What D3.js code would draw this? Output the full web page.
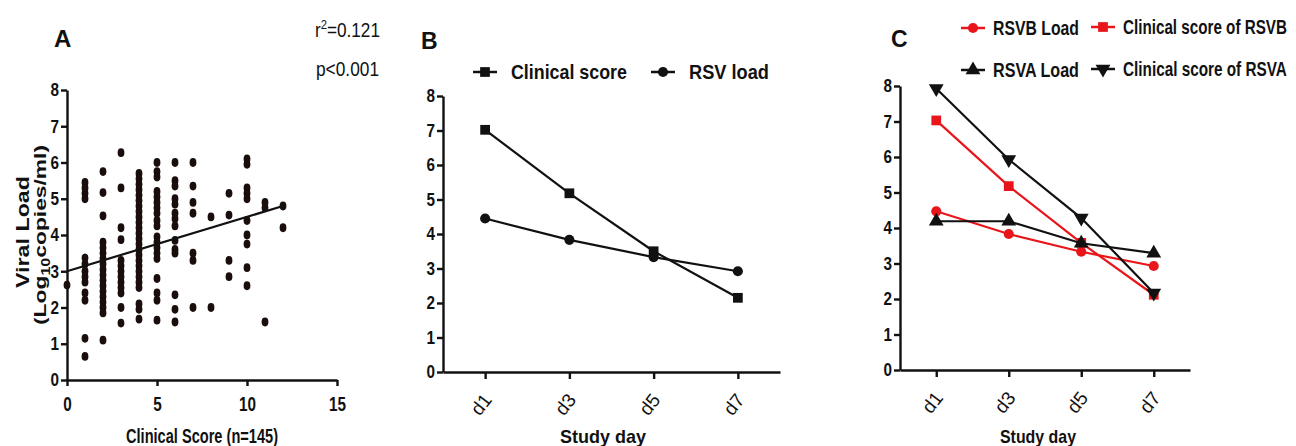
<!DOCTYPE html>
<html lang="en">
<head>
<meta charset="utf-8">
<title>RSV load and clinical score</title>
<script src="https://d3js.org/d3.v7.min.js"></script>
<style>
  body { margin: 0; background: #fff; }
  svg text { font-family: "Liberation Sans", Arial, sans-serif; fill: #111; }
  .axis path, .axis line { stroke: #111; stroke-width: 2.4; }
  .axis text { font-weight: bold; }
</style>
</head>
<body>
<script>
// ---- data ----
// panel A: viral load read column by column, index = clinical score
const scoreColumns = [0,1,2,3,4,5,6,7,8,9,10,11,12];
const loadByScore = [
  [2.62],
  [5.45,5.3,5.15,5.0,3.37,3.2,3.0,2.85,2.7,2.4,2.2,1.15,0.65],
  [5.75,5.17,4.53,3.8,3.65,3.5,3.35,3.2,3.05,2.9,2.75,2.6,2.45,2.3,2.15,2.0,1.85,1.1],
  [6.27,5.3,4.2,3.87,3.3,3.15,3.0,2.85,2.7,2.55,2.4,2.0,1.57],
  [5.7,5.55,5.4,5.25,5.1,4.95,4.8,4.65,4.5,4.35,4.2,4.05,3.9,3.75,3.6,3.45,3.3,3.15,3.0,2.85,2.7,2.55,2.1,1.95,1.68],
  [6.0,5.75,5.6,5.2,5.05,4.9,4.75,4.6,4.4,4.25,3.95,3.8,3.65,3.5,3.35,2.8,2.4,2.2,1.65],
  [6.0,5.5,5.35,5.0,4.85,4.6,4.45,4.25,3.85,3.6,3.5,2.35,1.95,1.6],
  [6.0,5.35,4.9,4.6,3.5,3.3,2.0],
  [4.5,2.0],
  [5.15,4.55,3.3,2.85],
  [6.1,5.95,5.3,5.15,5.0,4.4,4.0,3.75,3.1,2.6],
  [4.9,4.75,1.6],
  [4.8,4.2]
];
const fitIntercept = 3.0, fitSlope = 0.15, fitRange = [0, 12];
const xTicksA = [0,5,10,15];
const yTicks = [0,1,2,3,4,5,6,7,8];

// panels B and C
const studyDays = ["d1","d3","d5","d7"];
const clinicalScore = [7.02,5.18,3.5,2.15];
const rsvLoad = [4.45,3.83,3.33,2.92];

const rsvbLoad = [4.47,3.83,3.33,2.93];
const rsvbScore = [7.03,5.18,3.58,2.12];
const rsvaLoad = [4.19,4.19,3.57,3.29];
const rsvaScore = [7.93,5.93,4.28,2.17];

const RED = "#e8161b", BLACK = "#111";

const svg = d3.select("body").append("svg")
  .attr("width", 1296).attr("height", 446);

// squeeze text to a narrow look
function narrow(sel, w) {
  return sel.attr("textLength", w).attr("lengthAdjust", "spacingAndGlyphs");
}
// same idea, but by scaling the glyphs horizontally around the text start
function squeeze(sel, w) {
  const n = sel.node().getComputedTextLength();
  const x = +sel.attr("x"), y = +sel.attr("y");
  return sel.attr("transform", "translate(" + x + "," + y + ") scale(" + (w / n) + ",1) translate(" + (-x) + "," + (-y) + ")");
}

function yAxisAt(scale, x) {
  const g = svg.append("g").attr("class", "axis")
    .attr("transform", "translate(" + x + ",0)")
    .call(d3.axisLeft(scale).tickValues(yTicks).tickSize(6).tickSizeOuter(0).tickPadding(2));
  g.selectAll("text").style("font-size", "18px")
    .each(function(d) { narrow(d3.select(this), String(d).length * 8.5); });
  return g;
}

function marker(type) {
  return d3.symbol().type(type).size(type === d3.symbolCircle ? 80 : 95)();
}

// ---------- Panel A ----------
const xA = d3.scaleLinear().domain([0, 15]).range([67, 337]);
const yA = d3.scaleLinear().domain([0, 8]).range([380, 90]);

const xgA = svg.append("g").attr("class", "axis")
  .attr("transform", "translate(0," + yA(0) + ")")
  .call(d3.axisBottom(xA).tickValues(xTicksA).tickSize(6).tickSizeOuter(0).tickPadding(11));
xgA.selectAll("text").style("font-size", "20px")
  .each(function(d) { narrow(d3.select(this), String(d).length * 8.5); });
yAxisAt(yA, xA(0));

const points = [];
scoreColumns.forEach((s, i) => loadByScore[i].forEach(v => points.push({s: s, v: v})));
svg.append("g").selectAll("ellipse").data(points).enter().append("ellipse")
  .attr("cx", d => xA(d.s)).attr("cy", d => yA(d.v))
  .attr("rx", 3.4).attr("ry", 4.4)
  .attr("fill", "#1a0e0c");

svg.append("line")
  .attr("x1", xA(fitRange[0])).attr("y1", yA(fitIntercept + fitSlope * fitRange[0]))
  .attr("x2", xA(fitRange[1])).attr("y2", yA(fitIntercept + fitSlope * fitRange[1]))
  .attr("stroke", BLACK).attr("stroke-width", 2.2);

svg.append("text").attr("x", 54).attr("y", 47)
  .style("font-size", "24px").style("font-weight", "bold").text("A");

const r2 = svg.append("text").attr("x", 315).attr("y", 37).style("font-size", "20px");
r2.append("tspan").text("r");
r2.append("tspan").attr("dy", -8).style("font-size", "13px").text("2");
r2.append("tspan").attr("dy", 8).text("=0.121");
narrow(r2, 65);
narrow(svg.append("text").attr("x", 316).attr("y", 76).style("font-size", "20px").text("p<0.001"), 63);

narrow(svg.append("text").attr("transform", "translate(29,232) rotate(-90)")
  .attr("text-anchor", "middle").style("font-size", "19px").style("font-weight", "bold")
  .text("Viral Load"), 112);
const yl = svg.append("text").attr("transform", "translate(46,235) rotate(-90)")
  .attr("text-anchor", "middle").style("font-size", "17px").style("font-weight", "bold");
yl.append("tspan").text("(Log");
yl.append("tspan").attr("dy", 4).style("font-size", "12px").text("10");
yl.append("tspan").attr("dy", -4).text("copies/ml)");
narrow(yl, 180);

narrow(svg.append("text").attr("x", 126).attr("y", 443)
  .style("font-size", "20px").style("font-weight", "bold").text("Clinical Score (n=145)"), 152);

// ---------- line panels ----------
function linePanel(opts) {
  const x = d3.scalePoint().domain(studyDays).range(opts.xRange).padding(0.5);
  const y = d3.scaleLinear().domain([0, 8]).range(opts.yRange);

  const xg = svg.append("g").attr("class", "axis")
    .attr("transform", "translate(0," + y(0) + ")")
    .call(d3.axisBottom(x).tickSize(7).tickSizeOuter(0));
  xg.selectAll("text")
    .attr("x", 0).attr("y", 0).attr("dy", "0.35em")
    .attr("text-anchor", "end")
    .attr("transform", "translate(2,24) rotate(-52)")
    .style("font-size", "19px").style("font-weight", "normal");
  yAxisAt(y, opts.xRange[0]);

  const line = d3.line().x((d, i) => x(studyDays[i])).y(d => y(d));
  opts.series.forEach(s => {
    svg.append("path").datum(s.values)
      .attr("d", line).attr("fill", "none")
      .attr("stroke", s.color).attr("stroke-width", 2.2);
    svg.append("g").selectAll("path").data(s.values).enter().append("path")
      .attr("d", marker(s.shape))
      .attr("transform", (d, i) => "translate(" + x(studyDays[i]) + "," + y(d) + ")" + (s.flip ? " rotate(180)" : ""))
      .attr("fill", s.color);
  });

  opts.series.forEach(s => {
    const lx = s.legend[0], ly = s.legend[1];
    svg.append("line").attr("x1", lx - 12).attr("x2", lx + 12).attr("y1", ly).attr("y2", ly)
      .attr("stroke", s.color).attr("stroke-width", 2.5);
    svg.append("path").attr("d", marker(s.shape))
      .attr("transform", "translate(" + lx + "," + ly + ")" + (s.flip ? " rotate(180)" : ""))
      .attr("fill", s.color);
    squeeze(svg.append("text").attr("x", lx + opts.legendGap).attr("y", ly + opts.legendDy)
      .style("font-size", opts.legendSize).style("font-weight", "bold").text(s.name), s.width);
  });

  svg.append("text").attr("x", opts.label[0]).attr("y", opts.label[1])
    .style("font-size", "23px").style("font-weight", "bold").text(opts.labelText);
  narrow(svg.append("text").attr("x", opts.title[0]).attr("y", 443)
    .style("font-size", "19px").style("font-weight", "bold")
    .text("Study day"), opts.title[1]);
}

linePanel({
  xRange: [443, 780], yRange: [372, 96],
  label: [421, 49], labelText: "B",
  title: [560, 86],
  legendGap: 26, legendSize: "20px", legendDy: 7,
  series: [
    {name: "Clinical score", values: clinicalScore, color: BLACK, shape: d3.symbolSquare, legend: [485, 72], width: 116},
    {name: "RSV load", values: rsvLoad, color: BLACK, shape: d3.symbolCircle, legend: [663, 72], width: 80}
  ]
});

linePanel({
  xRange: [900, 1190], yRange: [370, 86],
  label: [891, 47], labelText: "C",
  title: [1000, 76],
  legendGap: 20, legendSize: "21px", legendDy: 7,
  series: [
    {name: "RSVB Load", values: rsvbLoad, color: RED, shape: d3.symbolCircle, legend: [973, 28], width: 86},
    {name: "Clinical score of RSVB", values: rsvbScore, color: RED, shape: d3.symbolSquare, legend: [1103, 27], width: 164},
    {name: "RSVA Load", values: rsvaLoad, color: BLACK, shape: d3.symbolTriangle, legend: [973, 70], width: 86},
    {name: "Clinical score of RSVA", values: rsvaScore, color: BLACK, shape: d3.symbolTriangle, flip: true, legend: [1103, 69], width: 164}
  ]
});
</script>
</body>
</html>
